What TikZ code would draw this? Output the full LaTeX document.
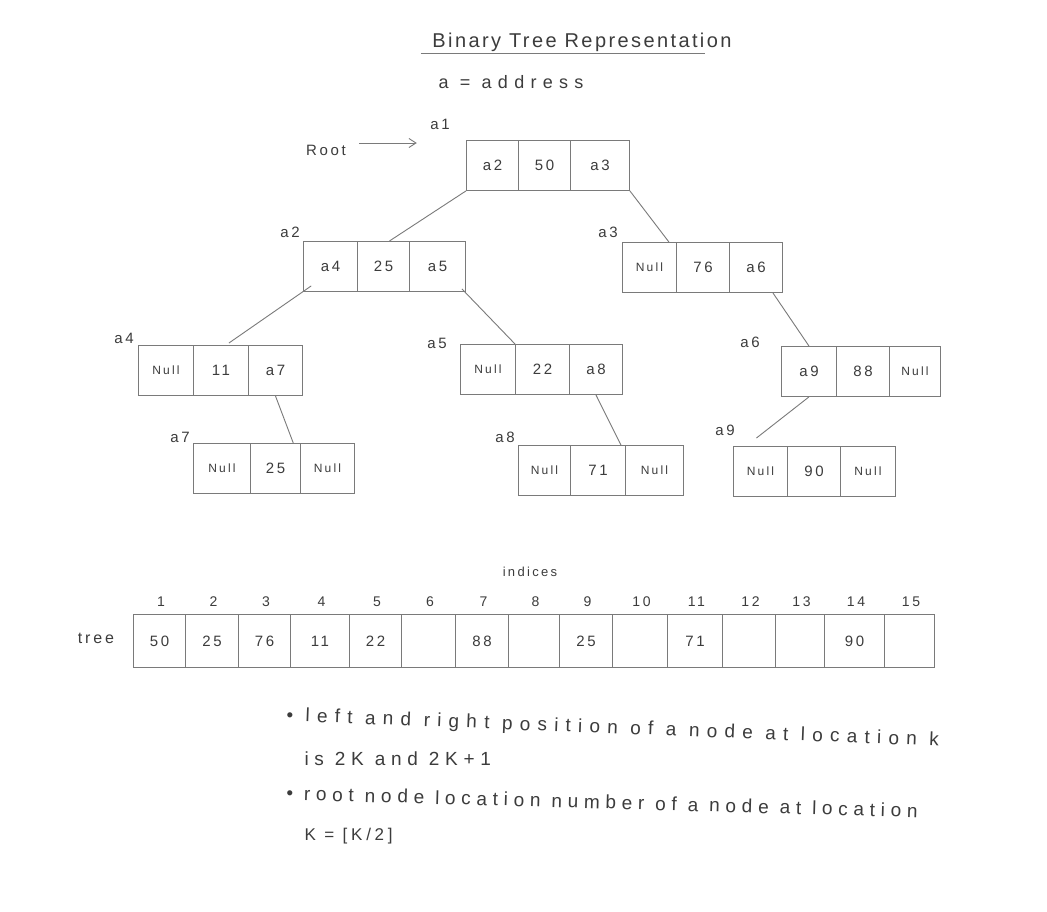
\documentclass[tikz,border=0pt]{standalone}
\usepackage{fontspec}
\setmainfont{Liberation Sans}
\newfontfamily\hand[LetterSpace=18]{Liberation Sans}
\newfontfamily\handtitle[LetterSpace=12]{Liberation Sans}
\newfontfamily\handwide[LetterSpace=35]{Liberation Sans}
\newfontfamily\handnote[LetterSpace=22]{Liberation Sans}
\newfontfamily\handnoteB[LetterSpace=30]{Liberation Sans}
\newfontfamily\handnoteA[LetterSpace=38]{Liberation Sans}
\usetikzlibrary{calc,arrows.meta}
\definecolor{pencil}{HTML}{7A7A7A}
\definecolor{ink}{HTML}{3C3C3C}
\newcommand\tripnode[9]{%
  \node[cell, anchor=north west, minimum width={#3-#2}] (#1l) at (#2,#6) {#7};
  \node[cell, anchor=north west, minimum width={#4-#3}] (#1m) at (#3,#6) {#8};
  \node[cell, anchor=north west, minimum width={#5-#4}] (#1r) at (#4,#6) {#9};
}
\newcommand\nul[1]{{\fontsize{12}{14}\selectfont #1}}
\begin{document}
\begin{tikzpicture}[x=1pt,y=-1pt,
  cell/.style={draw=pencil, line width=0.9pt, inner sep=0pt, minimum height=50,
     text=ink, font=\hand\fontsize{15}{18}\selectfont},
  lab/.style={text=ink, font=\hand\fontsize{15}{18}\selectfont},
  idx/.style={text=ink, font=\hand\fontsize{14}{16}\selectfont},
  note/.style={text=ink, anchor=west, font=\handnoteB\fontsize{19}{22}\selectfont},
  link/.style={draw=pencil, line width=0.9pt}]
\useasboundingbox (0,0) rectangle (1047,911);
\fill[white] (0,0) rectangle (1047,911);

% title
\node[text=ink, font=\handtitle\fontsize{20}{24}\selectfont] (title) at (582,42) {Binary Tree Representation};
\draw[pencil, line width=0.9pt] ($(title.south west)+(-8,-1)$) -- ($(title.south east)+(-30,-1)$);
\node[text=ink, font=\handwide\fontsize{18}{22}\selectfont] (legend) at (511,82) {a = address};

% root pointer
\node[lab] (root) at (326,150) {Root};
\node[lab] (la1) at (440,124) {a1};
\coordinate (rs) at ($(root.east)+(10,-7)$);
\coordinate (re) at ($(rs -| la1.west)+(-10,0)$);
\draw[link, -{Straight Barb[length=7pt,width=9pt]}] (rs) -- (re);

% tree nodes
\tripnode{a1}{466}{518}{570}{629}{140}{a2}{50}{a3}
\tripnode{a2}{303}{357}{409}{465}{241}{a4}{25}{a5}
\tripnode{a3}{622}{676}{729}{782}{242}{\nul{Null}}{76}{a6}
\tripnode{a4}{138}{193}{248}{302}{345}{\nul{Null}}{11}{a7}
\tripnode{a5}{460}{515}{569}{622}{344}{\nul{Null}}{22}{a8}
\tripnode{a6}{781}{836}{889}{940}{346}{a9}{88}{\nul{Null}}
\tripnode{a7}{193}{250}{300}{354}{443}{\nul{Null}}{25}{\nul{Null}}
\tripnode{a8}{518}{570}{625}{683}{445}{\nul{Null}}{71}{\nul{Null}}
\tripnode{a9}{733}{787}{840}{895}{446}{\nul{Null}}{90}{\nul{Null}}

% address labels
\node[lab] (la2) at (290,232) {a2};
\node[lab] (la3) at (608,232) {a3};
\node[lab] (la4) at (124,338) {a4};
\node[lab] (la5) at (437,343) {a5};
\node[lab] (la6) at (750,342) {a6};
\node[lab] (la7) at (180,437) {a7};
\node[lab] (la8) at (505,437) {a8};
\node[lab] (la9) at (725,430) {a9};

% connectors
\draw[link] (a1l.south west) -- ($(a2m.north)+(6,0)$);
\draw[link] (a1r.south east) -- ($(a3l.north east)+(-8,0)$);
\draw[link] ($(a2l.south west)!0.15!(a2l.south east)+(0,-6)$) -- ($(a4m.north)+(8,-2)$);
\draw[link] ($(a2r.south east)+(-4,-3)$) -- (a5m.north west);
\draw[link] ($(a3r.south east)+(-10,0)$) -- (a6l.north);
\draw[link] (a4r.south) -- ($(a7m.north)!0.7!(a7m.north east)$);
\draw[link] (a5r.south) -- ($(a8m.north east)+(-5,0)$);
\draw[link] (a6l.south) -- ($(a9l.north)+(-4,-8)$);

% array
\node[text=ink, font=\hand\fontsize{13}{15}\selectfont] (indices) at (530,572) {indices};
\node[text=ink, font=\hand\fontsize{16}{19}\selectfont] (tree) at (96,638) {tree};
\foreach \i/\a/\b/\v in {1/133/185/50, 2/185/238/25, 3/238/290/76, 4/290/349/11,
   5/349/401/22, 6/401/455/{}, 7/455/508/88, 8/508/559/{}, 9/559/612/25,
   10/612/667/{}, 11/667/722/71, 12/722/775/{}, 13/775/824/{}, 14/824/884/90, 15/884/934/{}}{
  \node[cell, anchor=north west, minimum width={\b-\a}, minimum height=53] (t\i) at (\a,614) {\v};
  \node[idx] (i\i) at ({(\a+\b)/2+2},602) {\i};
}

% notes
\node[note, font=\handnoteA\fontsize{19}{22}\selectfont, rotate=-2.2] (n1) at (283,716) {\textbullet\ left and right position of a node at location k};
\node[note] (n2) at (301,759) {is 2K and 2K+1};
\node[note, rotate=-1.6] (n3) at (283,793) {\textbullet\ root node location number of a node at location};
\node[note, font=\handnote\fontsize{17}{20}\selectfont] (n4) at (301,836) {K = [K/2]};
\end{tikzpicture}
\end{document}
